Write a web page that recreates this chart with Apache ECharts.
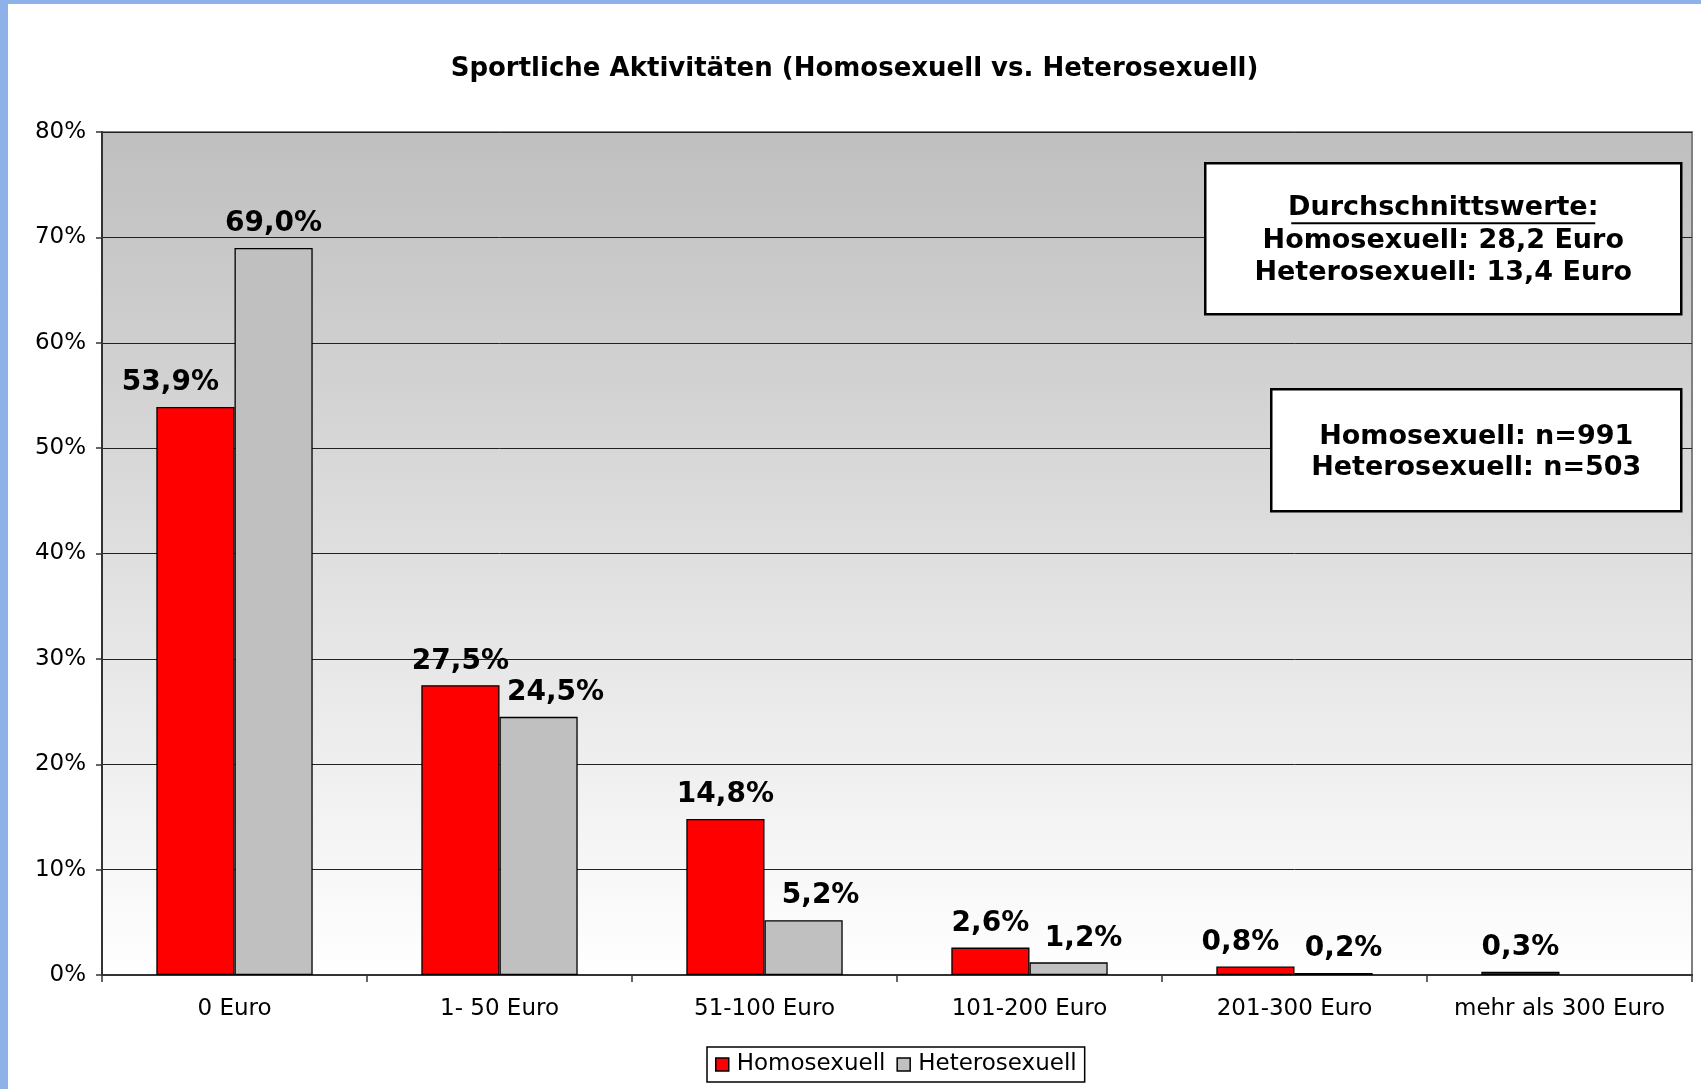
<!DOCTYPE html>
<html>
<head>
<meta charset="utf-8">
<script src="https://cdn.jsdelivr.net/npm/echarts@6/dist/echarts.min.js"></script>
<style>
  html, body { margin: 0; padding: 0; background: #8fb1ea; }
  #chart { position: absolute; left: 8px; top: 4px; width: 1693px; height: 1085px; background: #fff; }
</style>
</head>
<body>
<div id="chart"></div>
<script>
// values (percent)
const categories = ['0 Euro', '1- 50 Euro', '51-100 Euro', '101-200 Euro', '201-300 Euro', 'mehr als 300 Euro'];
const homo = [53.9, 27.5, 14.8, 2.6, 0.8, 0.3];
const hetero = [69.0, 24.5, 5.2, 1.2, 0.2, null];
const yTicks = [0, 10, 20, 30, 40, 50, 60, 70, 80];

// small horizontal nudges of the value labels, like the original
const homoShift = [-25, 0, 0, 0, -15, 0];
const heteroShift = [0, 17, 17, 15, 10, 0];

const fmt = v => v.toFixed(1).replace('.', ',') + '%';

const chart = echarts.init(document.getElementById('chart'));

function barSeries(name, values, color, shift) {
  return {
    name: name,
    type: 'bar',
    barGap: '0%',
    barCategoryGap: '41%',
    itemStyle: { color: color, borderColor: '#000', borderWidth: 1.3 },
    label: {
      show: true,
      position: 'top',
      distance: 10,
      fontFamily: 'DejaVu Sans',
      fontWeight: 'bold',
      fontSize: 28,
      color: '#000',
      formatter: p => fmt(p.value)
    },
    data: values.map((v, i) => ({
      value: v,
      label: { offset: [shift[i], 0] }
    }))
  };
}

const boxFont = 'bold 27px "DejaVu Sans"';

const option = {
  animation: false,
  title: {
    text: 'Sportliche Aktivitäten (Homosexuell vs. Heterosexuell)',
    left: 'center',
    top: 47,
    textStyle: { fontFamily: 'DejaVu Sans', fontWeight: 'bold', fontSize: 26, color: '#000' }
  },
  legend: {
    left: 699,
    top: 1043,
    padding: [6, 8, 6, 8],
    itemWidth: 13,
    itemHeight: 13,
    itemGap: 11,
    icon: 'rect',
    borderColor: '#000',
    borderWidth: 1.5,
    backgroundColor: '#fff',
    itemStyle: { borderColor: '#000', borderWidth: 1.5 },
    textStyle: { fontFamily: 'DejaVu Sans', fontSize: 23, color: '#000', padding: [0, 0, 0, 3] }
  },
  grid: {
    left: 94,
    right: 9,
    top: 128,
    bottom: 114,
    show: true,
    borderColor: '#808080',
    borderWidth: 2,
    backgroundColor: {
      type: 'linear', x: 0, y: 0, x2: 0, y2: 1,
      colorStops: [{ offset: 0, color: '#bfbfbf' }, { offset: 1, color: '#ffffff' }]
    }
  },
  xAxis: {
    type: 'category',
    data: categories,
    axisLine: { lineStyle: { color: '#333', width: 2 } },
    axisTick: { show: true, interval: 0, length: 7, lineStyle: { color: '#333', width: 1.5 } },
    axisLabel: { interval: 0, hideOverlap: false, fontFamily: 'DejaVu Sans', fontSize: 23, color: '#000', margin: 23 }
  },
  yAxis: {
    type: 'value',
    min: yTicks[0],
    max: yTicks[yTicks.length - 1],
    interval: yTicks[1] - yTicks[0],
    axisLine: { show: true, lineStyle: { color: '#333', width: 2 } },
    axisTick: { show: true, length: 6, lineStyle: { color: '#333', width: 1.5 } },
    axisLabel: { fontFamily: 'DejaVu Sans', fontSize: 23, color: '#000', margin: 16, formatter: '{value}%' },
    splitLine: { lineStyle: { color: '#222', width: 1 } }
  },
  graphic: [
    {
      type: 'group',
      left: 1196,
      top: 158,
      z: 100,
      children: [
        { type: 'rect', z: 100, shape: { x: 0, y: 0, width: 476, height: 151 },
          style: { fill: '#fff', stroke: '#000', lineWidth: 2.5 } },
        { type: 'text', z: 101, x: 238, y: 45, style: { text: 'Durchschnittswerte:', align: 'center', verticalAlign: 'middle',
          font: boxFont, fill: '#000' } },
        { type: 'line', z: 101, shape: { x1: 86, y1: 60, x2: 390, y2: 60 }, style: { stroke: '#000', lineWidth: 2 } },
        { type: 'text', z: 101, x: 238, y: 78, style: { text: 'Homosexuell: 28,2 Euro', align: 'center', verticalAlign: 'middle',
          font: boxFont, fill: '#000' } },
        { type: 'text', z: 101, x: 238, y: 110, style: { text: 'Heterosexuell: 13,4 Euro', align: 'center', verticalAlign: 'middle',
          font: boxFont, fill: '#000' } }
      ]
    },
    {
      type: 'group',
      left: 1262,
      top: 384,
      z: 100,
      children: [
        { type: 'rect', z: 100, shape: { x: 0, y: 0, width: 410, height: 122 },
          style: { fill: '#fff', stroke: '#000', lineWidth: 2.5 } },
        { type: 'text', z: 101, x: 205, y: 48, style: { text: 'Homosexuell: n=991', align: 'center', verticalAlign: 'middle',
          font: boxFont, fill: '#000' } },
        { type: 'text', z: 101, x: 205, y: 79, style: { text: 'Heterosexuell: n=503', align: 'center', verticalAlign: 'middle',
          font: boxFont, fill: '#000' } }
      ]
    }
  ],
  series: [
    barSeries('Homosexuell', homo, '#ff0000', homoShift),
    barSeries('Heterosexuell', hetero, '#c0c0c0', heteroShift)
  ]
};

chart.setOption(option);
</script>
</body>
</html>
